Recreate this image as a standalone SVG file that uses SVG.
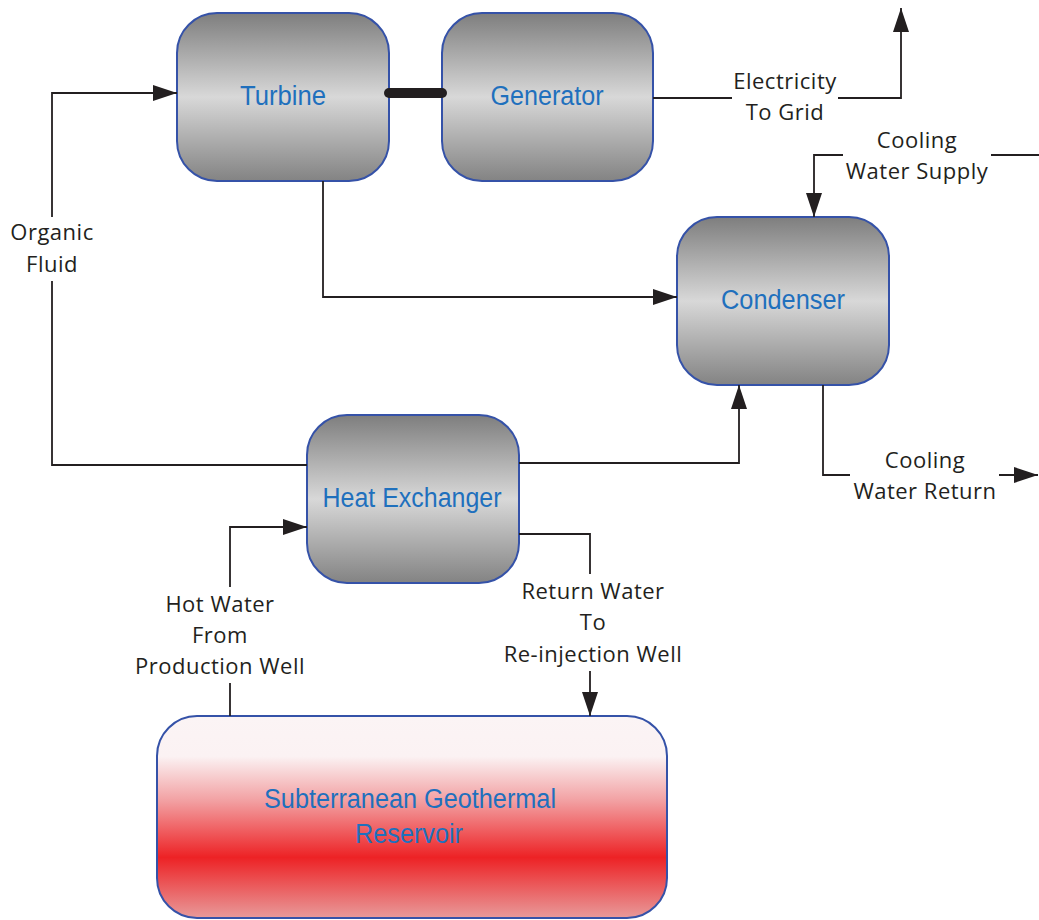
<svg xmlns="http://www.w3.org/2000/svg" width="1039" height="920" viewBox="0 0 1039 920">
<style>
.node{stroke:#3552a8;stroke-width:2}
.gray{fill:url(#gg)}
.red{fill:url(#rg)}
.nl{font-family:"Liberation Sans",Arial,sans-serif;font-size:27px;fill:#1f70bd;text-anchor:middle}
.lb{font-family:"Open Sans","Liberation Sans",sans-serif;font-size:22px;fill:#231f20;text-anchor:middle;letter-spacing:0.5px}
.c{fill:none;stroke:#231f20;stroke-width:1.8}
</style>
<defs>
<linearGradient id="gg" x1="0" y1="0" x2="0" y2="1">
<stop offset="0" stop-color="#7e7e7e"/>
<stop offset="0.5" stop-color="#d8d8d8"/>
<stop offset="1" stop-color="#838383"/>
</linearGradient>
<linearGradient id="rg" x1="0" y1="0" x2="0" y2="1">
<stop offset="0" stop-color="#fbf4f5"/>
<stop offset="0.2" stop-color="#fbf2f3"/>
<stop offset="0.42" stop-color="#f2a0a2"/>
<stop offset="0.7" stop-color="#ed2225"/>
<stop offset="1" stop-color="#e89a9a"/>
</linearGradient>
<marker id="ah" markerUnits="userSpaceOnUse" markerWidth="24" markerHeight="16" refX="24" refY="8" orient="auto">
<path d="M0,0 L24,8 L0,16 z" fill="#231f20"/>
</marker>
</defs>
<rect width="1039" height="920" fill="#ffffff"/>

<g id="turbine">
<rect class="node gray" x="177" y="13" width="212" height="168" rx="40"/>
<text class="nl" x="283" y="105" textLength="86" lengthAdjust="spacingAndGlyphs">Turbine</text>
</g>
<g id="generator">
<rect class="node gray" x="442" y="13" width="211" height="168" rx="40"/>
<text class="nl" x="547" y="105" textLength="113" lengthAdjust="spacingAndGlyphs">Generator</text>
</g>
<g id="condenser">
<rect class="node gray" x="677" y="217" width="212" height="168" rx="40"/>
<text class="nl" x="783" y="309" textLength="124" lengthAdjust="spacingAndGlyphs">Condenser</text>
</g>
<g id="heat-exchanger">
<rect class="node gray" x="307" y="415" width="212" height="168" rx="40"/>
<text class="nl" x="412" y="507" textLength="179" lengthAdjust="spacingAndGlyphs">Heat Exchanger</text>
</g>
<g id="reservoir">
<rect class="node red" x="157" y="716" width="510" height="202" rx="40"/>
<text class="nl" x="410" y="808" textLength="292" lengthAdjust="spacingAndGlyphs">Subterranean Geothermal</text>
<text class="nl" x="409" y="843" textLength="108" lengthAdjust="spacingAndGlyphs">Reservoir</text>
</g>

<g id="connectors">
<line x1="389" y1="93" x2="442" y2="93" stroke="#231f20" stroke-width="10" stroke-linecap="round"/>
<path class="c" d="M653,98 H732"/>
<path class="c" d="M838,98 H901 V8" marker-end="url(#ah)"/>
<path class="c" d="M1039,155 H991"/>
<path class="c" d="M843,155 H814 V217" marker-end="url(#ah)"/>
<path class="c" d="M323,181 V297 H677" marker-end="url(#ah)"/>
<path class="c" d="M823,385 V475 H850"/>
<path class="c" d="M999,475 H1038" marker-end="url(#ah)"/>
<path class="c" d="M519,463 H739 V385" marker-end="url(#ah)"/>
<path class="c" d="M307,465 H52 V281"/>
<path class="c" d="M52,217 V93 H177" marker-end="url(#ah)"/>
<path class="c" d="M230,716 V683"/>
<path class="c" d="M230,587 V527 H307" marker-end="url(#ah)"/>
<path class="c" d="M519,534 H590 V574"/>
<path class="c" d="M590,671 V716" marker-end="url(#ah)"/>
</g>

<g id="labels">
<text class="lb" x="785" y="89">Electricity</text>
<text class="lb" x="785" y="120">To Grid</text>
<text class="lb" x="917" y="148">Cooling</text>
<text class="lb" x="917" y="179">Water Supply</text>
<text class="lb" x="925" y="468">Cooling</text>
<text class="lb" x="925" y="499">Water Return</text>
<text class="lb" x="52" y="240">Organic</text>
<text class="lb" x="52" y="272">Fluid</text>
<text class="lb" x="220" y="612">Hot Water</text>
<text class="lb" x="220" y="643">From</text>
<text class="lb" x="220" y="674">Production Well</text>
<text class="lb" x="593" y="599">Return Water</text>
<text class="lb" x="593" y="630">To</text>
<text class="lb" x="593" y="662">Re-injection Well</text>
</g>
</svg>
